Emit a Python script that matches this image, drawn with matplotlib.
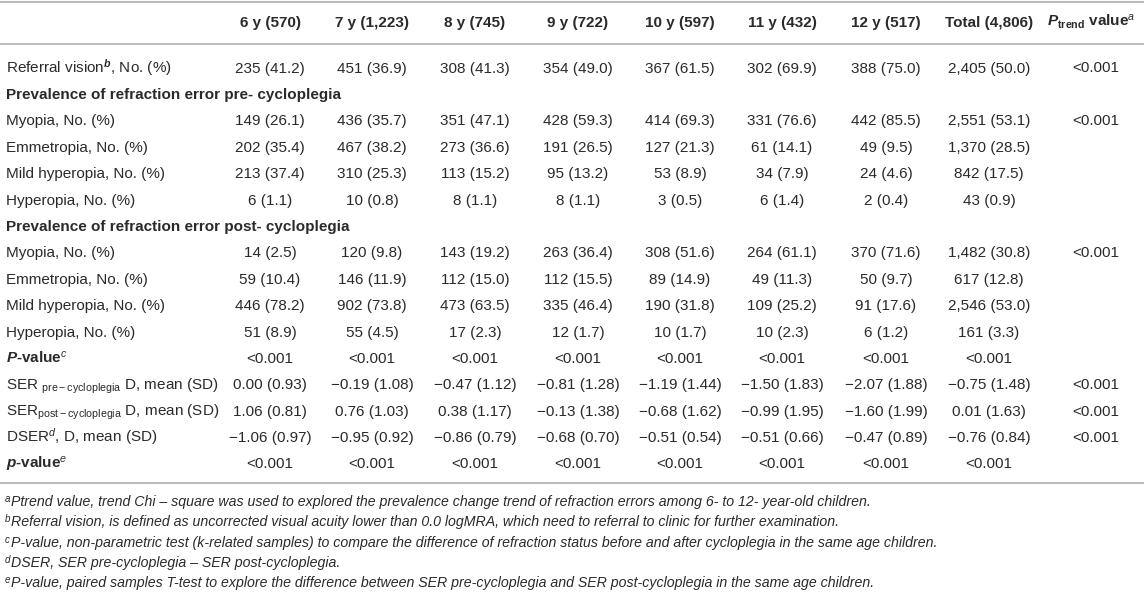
import matplotlib.pyplot as plt
import matplotlib as mpl

mpl.rcParams['font.family'] = ['Liberation Sans', 'DejaVu Sans']
mpl.rcParams['mathtext.fontset'] = 'custom'
mpl.rcParams['mathtext.rm'] = 'Liberation Sans'
mpl.rcParams['mathtext.it'] = 'Liberation Sans:italic'
mpl.rcParams['mathtext.bf'] = 'Liberation Sans:bold'
mpl.rcParams['mathtext.bfit'] = 'Liberation Sans:italic:bold'

# column headers
columns = ['6 y (570)', '7 y (1,223)', '8 y (745)', '9 y (722)', '10 y (597)',
           '11 y (432)', '12 y (517)', 'Total (4,806)']
ptrend_header = r'$\mathbfit{P}_{\mathbf{trend}}$ value$^{a}$'

# table body
referral = ['235 (41.2)', '451 (36.9)', '308 (41.3)', '354 (49.0)', '367 (61.5)', '302 (69.9)', '388 (75.0)', '2,405 (50.0)']
pre_myopia = ['149 (26.1)', '436 (35.7)', '351 (47.1)', '428 (59.3)', '414 (69.3)', '331 (76.6)', '442 (85.5)', '2,551 (53.1)']
pre_emmetropia = ['202 (35.4)', '467 (38.2)', '273 (36.6)', '191 (26.5)', '127 (21.3)', '61 (14.1)', '49 (9.5)', '1,370 (28.5)']
pre_mild = ['213 (37.4)', '310 (25.3)', '113 (15.2)', '95 (13.2)', '53 (8.9)', '34 (7.9)', '24 (4.6)', '842 (17.5)']
pre_hyperopia = ['6 (1.1)', '10 (0.8)', '8 (1.1)', '8 (1.1)', '3 (0.5)', '6 (1.4)', '2 (0.4)', '43 (0.9)']
post_myopia = ['14 (2.5)', '120 (9.8)', '143 (19.2)', '263 (36.4)', '308 (51.6)', '264 (61.1)', '370 (71.6)', '1,482 (30.8)']
post_emmetropia = ['59 (10.4)', '146 (11.9)', '112 (15.0)', '112 (15.5)', '89 (14.9)', '49 (11.3)', '50 (9.7)', '617 (12.8)']
post_mild = ['446 (78.2)', '902 (73.8)', '473 (63.5)', '335 (46.4)', '190 (31.8)', '109 (25.2)', '91 (17.6)', '2,546 (53.0)']
post_hyperopia = ['51 (8.9)', '55 (4.5)', '17 (2.3)', '12 (1.7)', '10 (1.7)', '10 (2.3)', '6 (1.2)', '161 (3.3)']
p_chi = ['<0.001'] * 8
ser_pre = ['0.00 (0.93)', '\u22120.19 (1.08)', '\u22120.47 (1.12)', '\u22120.81 (1.28)', '\u22121.19 (1.44)', '\u22121.50 (1.83)', '\u22122.07 (1.88)', '\u22120.75 (1.48)']
ser_post = ['1.06 (0.81)', '0.76 (1.03)', '0.38 (1.17)', '\u22120.13 (1.38)', '\u22120.68 (1.62)', '\u22120.99 (1.95)', '\u22121.60 (1.99)', '0.01 (1.63)']
dser = ['\u22121.06 (0.97)', '\u22120.95 (0.92)', '\u22120.86 (0.79)', '\u22120.68 (0.70)', '\u22120.51 (0.54)', '\u22120.51 (0.66)', '\u22120.47 (0.89)', '\u22120.76 (0.84)']
p_t = ['<0.001'] * 8

rows = [
    (r'Referral vision$^{\mathbfit{b}}$, No. (%)', 'normal', referral, '<0.001'),
    ('Prevalence of refraction error pre- cycloplegia', 'bold', None, ''),
    ('Myopia, No. (%)', 'normal', pre_myopia, '<0.001'),
    ('Emmetropia, No. (%)', 'normal', pre_emmetropia, ''),
    ('Mild hyperopia, No. (%)', 'normal', pre_mild, ''),
    ('Hyperopia, No. (%)', 'normal', pre_hyperopia, ''),
    ('Prevalence of refraction error post- cycloplegia', 'bold', None, ''),
    ('Myopia, No. (%)', 'normal', post_myopia, '<0.001'),
    ('Emmetropia, No. (%)', 'normal', post_emmetropia, ''),
    ('Mild hyperopia, No. (%)', 'normal', post_mild, ''),
    ('Hyperopia, No. (%)', 'normal', post_hyperopia, ''),
    (r'$\mathbfit{P}$-value$^{c}$', 'bold', p_chi, ''),
    (r'SER $_{\mathrm{pre-cycloplegia}}$ D, mean (SD)', 'normal', ser_pre, '<0.001'),
    (r'SER$_{\mathrm{post-cycloplegia}}$ D, mean (SD)', 'normal', ser_post, '<0.001'),
    (r'DSER$^{d}$, D, mean (SD)', 'normal', dser, '<0.001'),
    (r'$\mathbfit{p}$-value$^{e}$', 'bold', p_t, ''),
]

foot_marks = ['a', 'b', 'c', 'd', 'e']
footnotes = [
    'Ptrend value, trend Chi \u2013 square was used to explored the prevalence change trend of refraction errors among 6- to 12- year-old children.',
    'Referral vision, is defined as uncorrected visual acuity lower than 0.0 logMRA, which need to referral to clinic for further examination.',
    'P-value, non-parametric test (k-related samples) to compare the difference of refraction status before and after cycloplegia in the same age children.',
    'DSER, SER pre-cycloplegia \u2013 SER post-cycloplegia.',
    'P-value, paired samples T-test to explore the difference between SER pre-cycloplegia and SER post-cycloplegia in the same age children.',
]

# layout (pixels)
col_x = [270, 372, 475, 578, 680, 782, 886, 989]
ptrend_x = 1096
label_x = 6
header_y = 21
row_y0 = 67
row_h = 26.4
foot_y0 = 501
foot_h = 20.3
txt = '#2a2a2a'
rule = '#bcbcbc'
fs = 11
base = 5.5   # centre -> baseline offset for 11 pt

fig = plt.figure(figsize=(11.44, 5.92), dpi=100)
ax = fig.add_axes([0, 0, 1, 1])
ax.set_xlim(0, 1144)
ax.set_ylim(592, 0)
ax.axis('off')

for y in [2, 44, 483]:
    ax.axhline(y, color=rule, lw=1.5)

for x, c in zip(col_x, columns):
    ax.text(x, header_y + base, c, ha='center', va='baseline', fontsize=fs,
            fontweight='bold', color=txt)
ax.text(ptrend_x - 5, header_y + base, ptrend_header, ha='center', va='baseline',
        fontsize=fs, fontweight='bold', color=txt)

for i, (label, weight, vals, pt) in enumerate(rows):
    y = row_y0 + i * row_h + base
    ax.text(label_x, y, label, ha='left', va='baseline', fontsize=fs, fontweight=weight, color=txt)
    if vals is not None:
        for x, v in zip(col_x, vals):
            ax.text(x, y, v, ha='center', va='baseline', fontsize=fs, color=txt)
    if pt:
        ax.text(ptrend_x, y, pt, ha='center', va='baseline', fontsize=fs, color=txt)

for j, (m, f) in enumerate(zip(foot_marks, footnotes)):
    y = foot_y0 + j * foot_h + 5
    ax.text(label_x - 1, y - 4, m, ha='left', va='baseline', fontsize=7,
            style='italic', color=txt)
    ax.text(label_x + 5, y, f, ha='left', va='baseline', fontsize=10.2,
            style='italic', color=txt)

fig.savefig('out.png', dpi=100)
